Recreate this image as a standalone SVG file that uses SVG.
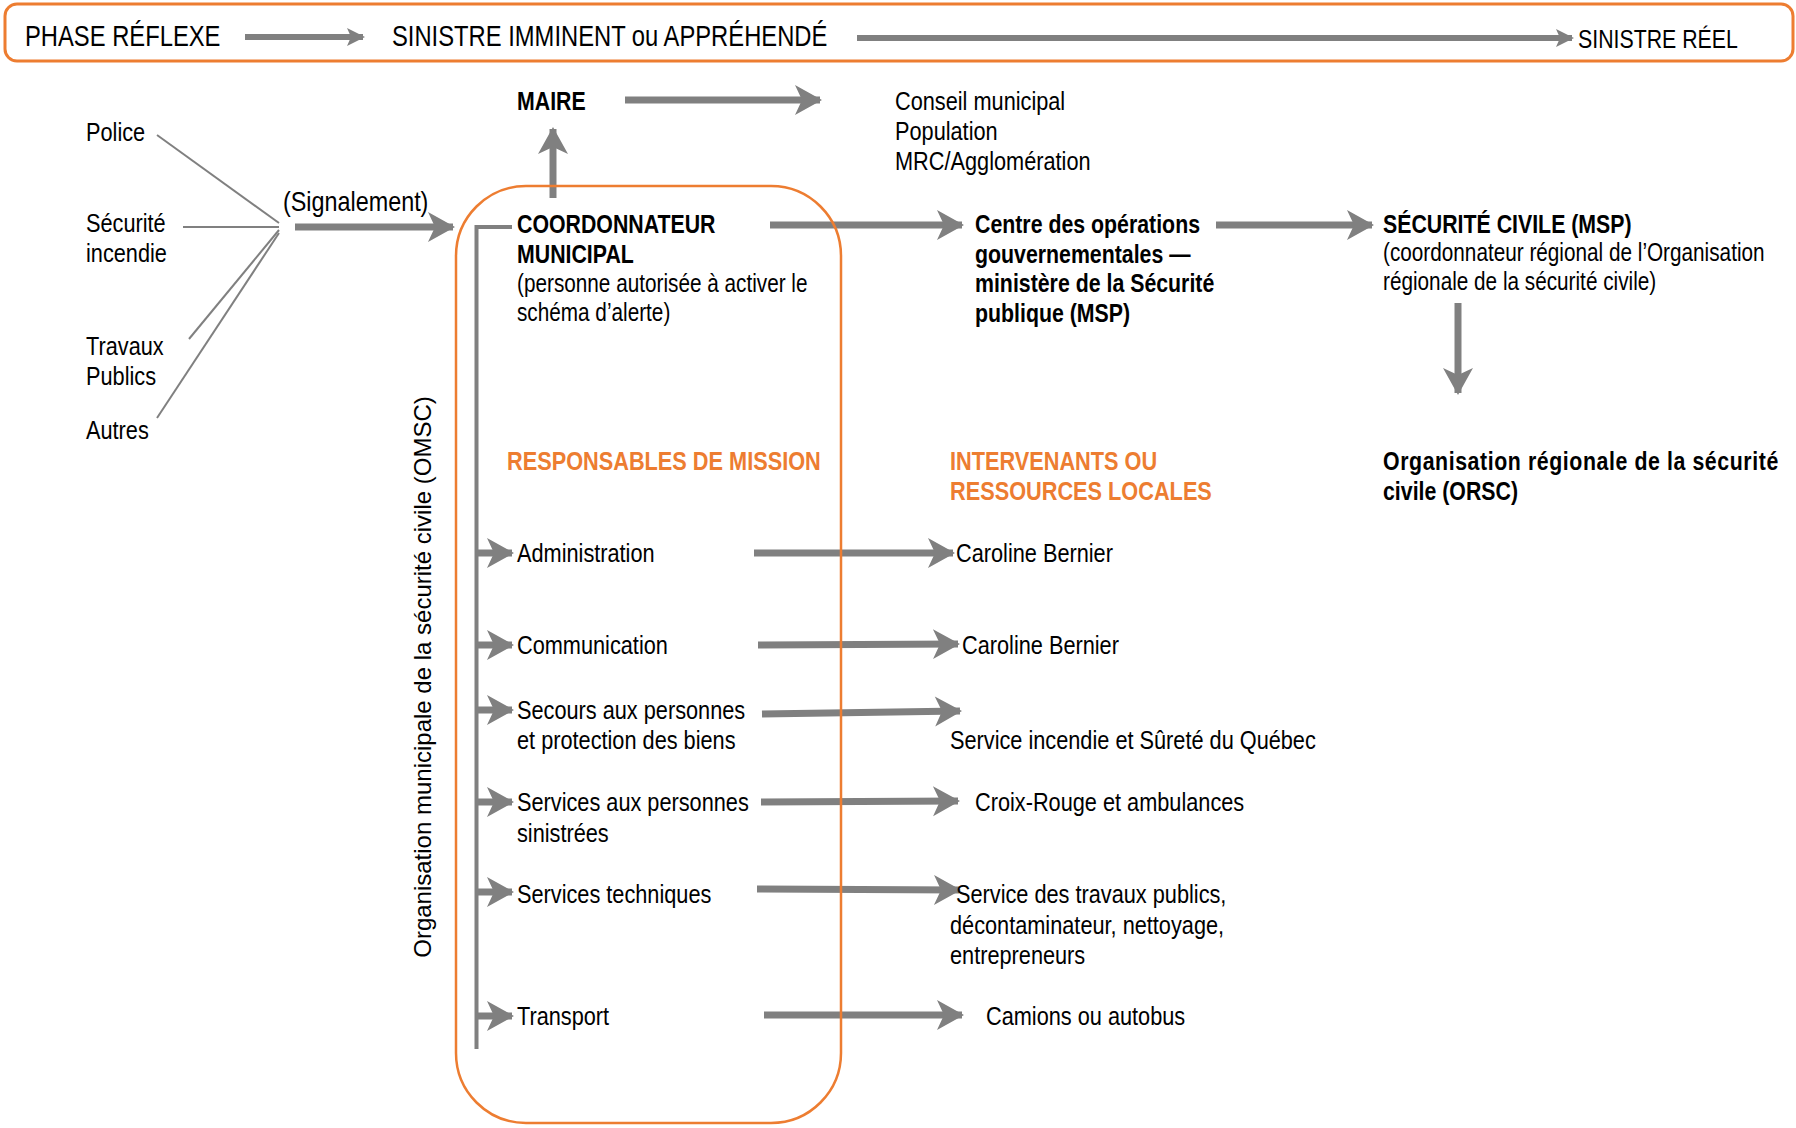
<svg xmlns="http://www.w3.org/2000/svg" width="1796" height="1128" viewBox="0 0 1796 1128">
<style>
text{font-family:"Liberation Sans",Arial,sans-serif;font-size:26.5px;fill:#000}
.b{font-weight:bold;font-size:26px}
.o{fill:#ED7D31;font-weight:bold;font-size:26.5px}
.top{font-size:29px}
.rot{font-size:24px}
.p{font-size:25.3px}
.thick{stroke:#808080;stroke-width:7;fill:none;marker-end:url(#ah)}
.mid{stroke:#808080;stroke-width:6;fill:none;marker-end:url(#ahs)}
.thin{stroke:#808080;stroke-width:2;fill:none}
</style>
<defs>
<marker id="ah" markerUnits="userSpaceOnUse" markerWidth="28" markerHeight="30" refX="25" refY="15" orient="auto" overflow="visible">
<path d="M0,0 L27,15 L0,30 L7,15 Z" fill="#808080"/>
</marker>
<marker id="ahs" markerUnits="userSpaceOnUse" markerWidth="18" markerHeight="18" refX="16" refY="9" orient="auto" overflow="visible">
<path d="M0,0 L18,9 L0,18 L4,9 Z" fill="#808080"/>
</marker>
</defs>
<rect width="1796" height="1128" fill="#fff"/>

<g id="phase-band">
<rect x="5" y="4" width="1788" height="57" rx="12" fill="none" stroke="#ED7D31" stroke-width="3"/>
<text class="top" transform="matrix(0.82 0 0 1 25 46)">PHASE RÉFLEXE</text>
<text class="top" transform="matrix(0.82 0 0 1 392 46)">SINISTRE IMMINENT ou APPRÉHENDÉ</text>
<text transform="matrix(0.82 0 0 1 1578 48)" style="font-size:26px">SINISTRE RÉEL</text>
</g>

<g id="connectors">
<line class="mid" x1="245" y1="37" x2="363" y2="37"/>
<line class="mid" x1="857" y1="38" x2="1572" y2="38"/>
<line class="thick" x1="625" y1="100" x2="820" y2="100"/>
<line class="thick" x1="553" y1="198" x2="553" y2="129"/>
<line class="thin" x1="157" y1="135" x2="279" y2="223"/>
<line class="thin" x1="183" y1="227" x2="279" y2="227"/>
<line class="thin" x1="189" y1="339" x2="279" y2="230"/>
<line class="thin" x1="157" y1="418" x2="279" y2="233"/>
<line class="thick" x1="295" y1="227" x2="453" y2="227"/>
<polyline points="512,227 476.5,227 476.5,1049" fill="none" stroke="#808080" stroke-width="4"/>
<line class="thick" x1="770" y1="225" x2="962" y2="225"/>
<line class="thick" x1="1216" y1="225" x2="1372" y2="225"/>
<line class="thick" x1="1458" y1="303" x2="1458" y2="393"/>
<line class="thick" x1="476" y1="553" x2="512" y2="553"/>
<line class="thick" x1="476" y1="645" x2="512" y2="645"/>
<line class="thick" x1="476" y1="710" x2="512" y2="710"/>
<line class="thick" x1="476" y1="802" x2="512" y2="802"/>
<line class="thick" x1="476" y1="892" x2="512" y2="892"/>
<line class="thick" x1="476" y1="1016" x2="512" y2="1016"/>
<line class="thick" x1="754" y1="553" x2="953" y2="553"/>
<line class="thick" x1="758" y1="645" x2="958" y2="644"/>
<line class="thick" x1="762" y1="714" x2="960" y2="711"/>
<line class="thick" x1="761" y1="802" x2="958" y2="801"/>
<line class="thick" x1="757" y1="889" x2="959" y2="890"/>
<line class="thick" x1="764" y1="1015" x2="962" y2="1015"/>
</g>

<g id="omsc">
<rect x="456" y="186" width="385" height="937" rx="70" fill="none" stroke="#ED7D31" stroke-width="2.5"/>
<text class="rot" transform="translate(431,677) rotate(-90)" text-anchor="middle">Organisation municipale de la sécurité civile (OMSC)</text>
</g>

<g id="maire"><text class="b" transform="matrix(0.82 0 0 1 517 110)">MAIRE</text></g>
<g id="conseil">
<text transform="matrix(0.82 0 0 1 895 110)">Conseil municipal</text>
<text transform="matrix(0.82 0 0 1 895 140)">Population</text>
<text transform="matrix(0.82 0 0 1 895 170)">MRC/Agglomération</text>
</g>
<g id="sources">
<text transform="matrix(0.82 0 0 1 86 141)">Police</text>
<text transform="matrix(0.82 0 0 1 86 232)">Sécurité</text>
<text transform="matrix(0.82 0 0 1 86 262)">incendie</text>
<text transform="matrix(0.82 0 0 1 86 355)">Travaux</text>
<text transform="matrix(0.82 0 0 1 86 385)">Publics</text>
<text transform="matrix(0.82 0 0 1 86 439)">Autres</text>
</g>
<g id="signalement"><text transform="matrix(0.82 0 0 1 283 211)" style="font-size:28.5px">(Signalement)</text></g>
<g id="coordonnateur">
<text class="b" transform="matrix(0.82 0 0 1 517 233)">COORDONNATEUR</text>
<text class="b" transform="matrix(0.82 0 0 1 517 263)">MUNICIPAL</text>
<text class="p" transform="matrix(0.82 0 0 1 517 292)">(personne autorisée à activer le</text>
<text class="p" transform="matrix(0.82 0 0 1 517 321)">schéma d’alerte)</text>
</g>
<g id="centre-ops">
<text class="b" transform="matrix(0.82 0 0 1 975 233)">Centre des opérations</text>
<text class="b" transform="matrix(0.82 0 0 1 975 263)">gouvernementales —</text>
<text class="b" transform="matrix(0.82 0 0 1 975 292)">ministère de la Sécurité</text>
<text class="b" transform="matrix(0.82 0 0 1 975 322)">publique (MSP)</text>
</g>
<g id="securite-civile">
<text class="b" transform="matrix(0.82 0 0 1 1383 233)">SÉCURITÉ CIVILE (MSP)</text>
<text class="p" transform="matrix(0.82 0 0 1 1383 261)">(coordonnateur régional de l’Organisation</text>
<text class="p" transform="matrix(0.82 0 0 1 1383 290)">régionale de la sécurité civile)</text>
</g>
<g id="orsc">
<text class="b" transform="matrix(0.82 0 0 1 1383 470)" textLength="482" lengthAdjust="spacing">Organisation régionale de la sécurité</text>
<text class="b" transform="matrix(0.82 0 0 1 1383 500)">civile (ORSC)</text>
</g>
<g id="responsables"><text class="o" transform="matrix(0.82 0 0 1 507 470)">RESPONSABLES DE MISSION</text></g>
<g id="intervenants">
<text class="o" transform="matrix(0.82 0 0 1 950 470)">INTERVENANTS OU</text>
<text class="o" transform="matrix(0.82 0 0 1 950 500)">RESSOURCES LOCALES</text>
</g>
<g id="m-admin"><text transform="matrix(0.82 0 0 1 517 562)">Administration</text></g>
<g id="m-comm"><text transform="matrix(0.82 0 0 1 517 654)">Communication</text></g>
<g id="m-secours"><text transform="matrix(0.82 0 0 1 517 719)">Secours aux personnes</text><text transform="matrix(0.82 0 0 1 517 749)">et protection des biens</text></g>
<g id="m-services"><text transform="matrix(0.82 0 0 1 517 811)">Services aux personnes</text><text transform="matrix(0.82 0 0 1 517 842)">sinistrées</text></g>
<g id="m-tech"><text transform="matrix(0.82 0 0 1 517 903)">Services techniques</text></g>
<g id="m-transport"><text transform="matrix(0.82 0 0 1 517 1025)">Transport</text></g>
<g id="r-admin"><text transform="matrix(0.82 0 0 1 956 562)">Caroline Bernier</text></g>
<g id="r-comm"><text transform="matrix(0.82 0 0 1 962 654)">Caroline Bernier</text></g>
<g id="r-secours"><text transform="matrix(0.82 0 0 1 950 749)">Service incendie et Sûreté du Québec</text></g>
<g id="r-services"><text transform="matrix(0.82 0 0 1 975 811)">Croix-Rouge et ambulances</text></g>
<g id="r-tech">
<text transform="matrix(0.82 0 0 1 956 903)">Service des travaux publics,</text>
<text transform="matrix(0.82 0 0 1 950 934)">décontaminateur, nettoyage,</text>
<text transform="matrix(0.82 0 0 1 950 964)">entrepreneurs</text>
</g>
<g id="r-transport"><text transform="matrix(0.82 0 0 1 986 1025)">Camions ou autobus</text></g>
</svg>
